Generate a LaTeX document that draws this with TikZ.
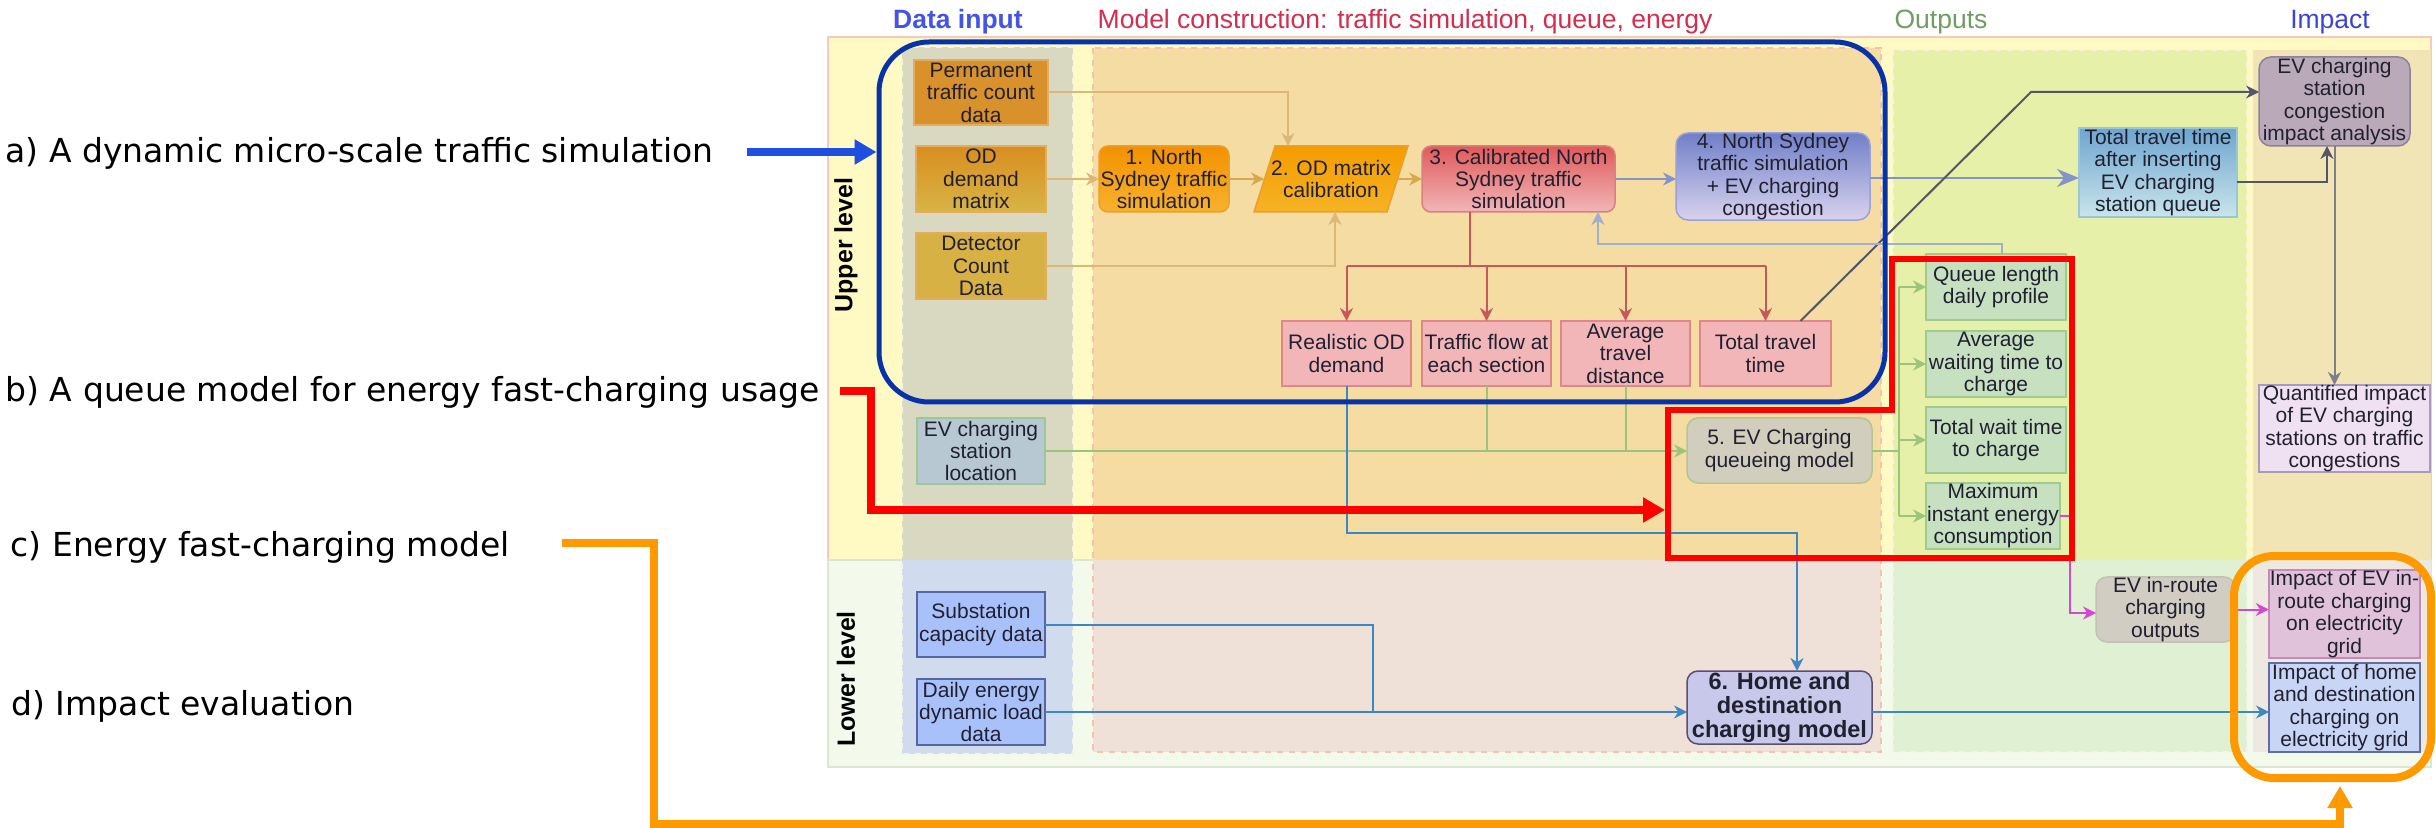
\documentclass[tikz,border=0pt]{standalone}
\usepackage{fontspec}
\setmainfont{Liberation Sans}
\newfontfamily\leftfont{DejaVu Sans}
\usetikzlibrary{arrows.meta}
% backgrounds
\definecolor{upband}{HTML}{FFF9C4}
\definecolor{upbandB}{HTML}{F6C9BF}
\definecolor{lowband}{HTML}{F3FAEB}
\definecolor{lowbandB}{HTML}{DDE6D6}
\definecolor{diU}{HTML}{D9D8C0}
\definecolor{diL}{HTML}{D0DCEE}
\definecolor{mcU}{HTML}{F5DCA2}
\definecolor{mcL}{HTML}{EFE0D8}
\definecolor{mcB}{HTML}{F2C3AE}
\definecolor{ocU}{HTML}{E6F0A8}
\definecolor{ocL}{HTML}{DFF0D3}
\definecolor{icU}{HTML}{F1E5B5}
\definecolor{icL}{HTML}{EDE9E0}
\definecolor{colB}{HTML}{F4F4E4}
% boxes
\definecolor{txt}{HTML}{202030}
\definecolor{permF}{HTML}{D9912B}
\definecolor{permB}{HTML}{E3AD5C}
\definecolor{odmT}{HTML}{D98E20}
\definecolor{odmM}{HTML}{D8A236}
\definecolor{odmBo}{HTML}{D8B446}
\definecolor{detF}{HTML}{D8B145}
\definecolor{evlF}{HTML}{B7C8D3}
\definecolor{evlB}{HTML}{9CC79A}
\definecolor{subF}{HTML}{A9C1FA}
\definecolor{subB}{HTML}{5566A0}
\definecolor{bOneT}{HTML}{F39100}
\definecolor{bOneB}{HTML}{F7B22E}
\definecolor{bOneBd}{HTML}{E8A030}
\definecolor{bTwoT}{HTML}{F59C00}
\definecolor{bTwoB}{HTML}{F6B325}
\definecolor{bThrT}{HTML}{E05A5A}
\definecolor{bThrB}{HTML}{F1B6B8}
\definecolor{bThrBd}{HTML}{D88080}
\definecolor{pinkF}{HTML}{F2B6B8}
\definecolor{pinkB}{HTML}{E08888}
\definecolor{bFouT}{HTML}{7080C8}
\definecolor{bFouB}{HTML}{D9D2EE}
\definecolor{bFouBd}{HTML}{9AA0D8}
\definecolor{bFivF}{HTML}{D2CEBE}
\definecolor{bFivB}{HTML}{B5C592}
\definecolor{bSixF}{HTML}{C7C8EA}
\definecolor{bSixB}{HTML}{5C4F6E}
\definecolor{ttaT}{HTML}{6FA5CF}
\definecolor{ttaB}{HTML}{C9E5EC}
\definecolor{ttaBd}{HTML}{9BC6D6}
\definecolor{grnF}{HTML}{C6E0C0}
\definecolor{grnB}{HTML}{9FCB8E}
\definecolor{evrF}{HTML}{D1CDC2}
\definecolor{evrB}{HTML}{C2C2B2}
\definecolor{congF}{HTML}{B9A9B9}
\definecolor{congB}{HTML}{8E8298}
\definecolor{quaF}{HTML}{EFE1F1}
\definecolor{quaB}{HTML}{A99AB8}
\definecolor{impOF}{HTML}{E0C2DA}
\definecolor{impOB}{HTML}{C888B8}
\definecolor{impTF}{HTML}{C9D5F4}
\definecolor{impTB}{HTML}{5E6EA4}
% connectors
\definecolor{cTan}{HTML}{D9B878}
\definecolor{cOra}{HTML}{D8A850}
\definecolor{cBlG}{HTML}{8494C8}
\definecolor{cRed}{HTML}{C85858}
\definecolor{cFb}{HTML}{9EAFD0}
\definecolor{cDark}{HTML}{555566}
\definecolor{cGrey}{HTML}{7F7F88}
\definecolor{cGreen}{HTML}{9CC47C}
\definecolor{cBlue}{HTML}{3C88C4}
\definecolor{cMag}{HTML}{D448D4}
% headers and overlays
\definecolor{hBlue}{HTML}{4453E8}
\definecolor{hRed}{HTML}{D42E4E}
\definecolor{hGreen}{HTML}{6E9E62}
\definecolor{hImp}{HTML}{3B44D8}
\definecolor{ovBlue}{HTML}{0833A8}
\definecolor{arBlue}{HTML}{1F4FE0}
\definecolor{ovRed}{HTML}{FF0000}
\definecolor{ovOrange}{HTML}{FF9900}

\newcommand\boxfont{\fontsize{5.97pt}{6.4pt}\selectfont}
\newcommand\sixfont{\fontsize{6.69pt}{6.9pt}\selectfont\bfseries}
\newcommand\hdrfont{\fontsize{7.54pt}{8pt}\selectfont}
\newcommand\lvlfont{\fontsize{7.1pt}{8pt}\selectfont\bfseries}
\newcommand\annfont{\leftfont\fontsize{9.39pt}{11pt}\selectfont}

\newcommand\mkbox[7][]{%
  \pgfmathsetmacro\mkcx{(#3+#5)/2}%
  \pgfmathsetmacro\mkcy{(#4+#6)/2}%
  \pgfmathsetmacro\mkw{(#5-#3)*0.1}%
  \pgfmathsetmacro\mkh{(#6-#4)*0.1}%
  \node[#1, minimum width=\mkw mm, minimum height=\mkh mm] (#2) at (\mkcx,\mkcy) {#7};%
}

\begin{document}
\begin{tikzpicture}[x=0.1mm,y=-0.1mm,
  bx/.style={draw, line width=0.15mm, inner xsep=0.1mm, inner ysep=0mm, outer sep=0pt,
             align=center, font=\boxfont, text=txt},
  rbx/.style={bx, rounded corners=0.9mm},
  plain/.style={line width=0.2mm},
  conn/.style={line width=0.2mm, -{Stealth[length=1.3mm,width=1.3mm]}},
  bigconn/.style={line width=0.25mm, -{Stealth[length=2.2mm,width=1.8mm]}},
  hdr/.style={font=\hdrfont, inner sep=0pt},
  ann/.style={font=\annfont, inner sep=0pt, text=black},
  bigarrow/.style={line width=0.8mm, -{Triangle[length=2.2mm,width=2.4mm]}},
  colbox/.style={draw=colB, line width=0.2mm, dash pattern=on 0.6mm off 0.6mm}
]
\useasboundingbox (0,0) rectangle (2436,828);
\fill[white] (0,0) rectangle (2436,828);

% ---------- bands ----------
\draw[fill=upband, draw=upbandB, line width=0.2mm] (828,37) rectangle (2431,560);
\draw[fill=lowband, draw=lowbandB, line width=0.2mm] (828,560) rectangle (2431,767);

% ---------- columns ----------
\fill[diU] (902,47) rectangle (1073,560);
\fill[diL] (902,560) rectangle (1073,754);
\draw[colbox] (902,47) rectangle (1073,754);
\fill[mcU] (1093,48) rectangle (1881,560);
\fill[mcL] (1093,560) rectangle (1881,752);
\draw[colbox, draw=mcB] (1093,48) rectangle (1881,752);
\fill[ocU] (1893,50) rectangle (2247,560);
\fill[ocL] (1893,560) rectangle (2247,752);
\draw[colbox] (1893,50) rectangle (2247,752);
\fill[icU] (2253,50) rectangle (2431,560);
\fill[icL] (2253,560) rectangle (2431,752);

% ---------- headers ----------
\node[hdr, text=hBlue, anchor=base, font=\hdrfont\bfseries] (hdi) at (958,29) {Data input};
\node[hdr, text=hRed, anchor=base west] (hmc) at (1097,29) {Model construction: traffic simulation, queue, energy};
\node[hdr, text=hGreen, anchor=base] (hout) at (1941,29) {Outputs};
\node[hdr, text=hImp, anchor=base] (himp) at (2330,29) {Impact};
\node[font=\lvlfont, rotate=90, inner sep=0pt] (lup) at (846,245) {Upper level};
\node[font=\lvlfont, rotate=90, inner sep=0pt] (llo) at (846,679) {Lower level};

% ---------- data input boxes ----------
\mkbox[bx, fill=permF, draw=permB]{perm}{914}{60}{1048}{125}{Permanent\\traffic count\\data}
\mkbox[bx, top color=odmT, middle color=odmM, bottom color=odmBo, draw=permB]{odm}{916}{146}{1046}{212}{OD\\demand\\matrix}
\mkbox[bx, fill=detF, draw=permB]{det}{916}{233}{1046}{299}{Detector\\Count\\Data}
\mkbox[bx, fill=evlF, draw=evlB]{evloc}{917}{418}{1045}{484}{EV charging\\station\\location}
\mkbox[bx, fill=subF, draw=subB]{subst}{917}{592}{1045}{657}{Substation\\capacity data}
\mkbox[bx, fill=subF, draw=subB]{daily}{917}{679}{1045}{745}{Daily energy\\dynamic load\\data}

% ---------- model boxes ----------
\mkbox[rbx, top color=bOneT, bottom color=bOneB, draw=bOneBd]{b1}{1099}{146}{1229}{212}{1. North\\Sydney traffic\\simulation}
\draw[top color=bTwoT, bottom color=bTwoB, draw=bOneBd, line width=0.15mm]
  (1275,146) -- (1408,146) -- (1387,212) -- (1254,212) -- cycle;
\node[font=\boxfont, align=center, text=txt, inner sep=0pt] (b2) at (1331,179) {2. OD matrix\\calibration};
\coordinate (b2w) at (1264,179);
\coordinate (b2e) at (1398,179);
\coordinate (b2n) at (1288,146);
\coordinate (b2s) at (1335,212);
\mkbox[rbx, top color=bThrT, bottom color=bThrB, draw=bThrBd]{b3}{1422}{146}{1615}{212}{3. Calibrated North\\Sydney traffic\\simulation}
\mkbox[rbx, rounded corners=1.2mm, top color=bFouT, bottom color=bFouB, draw=bFouBd]{b4}{1676}{133}{1870}{220}{4. North Sydney\\traffic simulation\\+ EV charging\\congestion}
\mkbox[bx, fill=pinkF, draw=pinkB]{rod}{1282}{321}{1411}{386}{Realistic OD\\demand}
\mkbox[bx, fill=pinkF, draw=pinkB]{tfl}{1422}{321}{1551}{386}{Traffic flow at\\each section}
\mkbox[bx, fill=pinkF, draw=pinkB]{atd}{1561}{321}{1690}{386}{Average\\travel\\distance}
\mkbox[bx, fill=pinkF, draw=pinkB]{ttt}{1700}{321}{1831}{386}{Total travel\\time}
\mkbox[rbx, rounded corners=1.1mm, fill=bFivF, draw=bFivB]{b5}{1687}{418}{1872}{483}{5. EV Charging\\queueing model}
\mkbox[rbx, rounded corners=1.1mm, fill=bSixF, draw=bSixB, font=\sixfont]{b6}{1687}{671}{1872}{744}{6. Home and\\destination\\charging model}

% ---------- output boxes ----------
\mkbox[bx, top color=ttaT, bottom color=ttaB, draw=ttaBd]{tta}{2079}{128}{2237}{217}{Total travel time\\after inserting\\EV charging\\station queue}
\mkbox[bx, fill=grnF, draw=grnB]{ql}{1926}{254}{2066}{320}{Queue length\\daily profile}
\mkbox[bx, fill=grnF, draw=grnB]{awt}{1926}{331}{2066}{397}{Average\\waiting time to\\charge}
\mkbox[bx, fill=grnF, draw=grnB]{twt}{1926}{407}{2066}{473}{Total wait time\\to charge}
\mkbox[bx, fill=grnF, draw=grnB]{mie}{1926}{483}{2060}{549}{Maximum\\instant energy\\consumption}
\mkbox[rbx, rounded corners=1.1mm, fill=evrF, draw=evrB]{evr}{2096}{577}{2235}{642}{EV in-route\\charging\\outputs}

% ---------- impact boxes ----------
\mkbox[rbx, rounded corners=1.2mm, fill=congF, draw=congB]{cong}{2259}{57}{2410}{146}{EV charging\\station\\congestion\\impact analysis}
\mkbox[bx, fill=quaF, draw=quaB]{quant}{2259}{385}{2430}{472}{Quantified impact\\of EV charging\\stations on traffic\\congestions}
\mkbox[bx, fill=impOF, draw=impOB]{imp1}{2269}{570}{2420}{658}{Impact of EV in-\\route charging\\on electricity\\grid}
\mkbox[bx, fill=impTF, draw=impTB]{imp2}{2269}{663}{2420}{752}{Impact of home\\and destination\\charging on\\electricity grid}

% ---------- connectors ----------
\draw[conn, cTan] (perm.east) -| (b2n);
\draw[conn, cTan] (odm.east) -- (b1.west);
\draw[conn, cOra] (b1.east) -- (b2w);
\draw[conn, cOra] (b2e) -- (b3.west);
\draw[conn, cTan] (det.east) -| (b2s);
\draw[conn, cBlG] (b3.east) -- (b3.east -| b4.west);

\coordinate (rj) at (1470,266);
\draw[plain, cRed] (b3.south -| rj) -- (rj);
\draw[plain, cRed] (rod.north |- rj) -- (ttt.north |- rj);
\draw[conn, cRed] (rod.north |- rj) -- (rod.north);
\draw[conn, cRed] (tfl.north |- rj) -- (tfl.north);
\draw[conn, cRed] (atd.north |- rj) -- (atd.north);
\draw[conn, cRed] (ttt.north |- rj) -- (ttt.north);

\draw[bigconn, cBlG] ([yshift=-0.15mm]b4.east) -- ([yshift=-0.15mm]b4.east -| tta.west);

\coordinate (dk) at (2031,92);
\draw[conn, cDark] ([xshift=3.5mm]ttt.north) -- (dk) -- (dk -| cong.west);
\coordinate (tc) at (2327,182);
\draw[conn, cDark] (tc -| tta.east) -| ([xshift=-0.75mm]cong.south);
\draw[conn, cGrey] (cong.south) -- (cong.south |- quant.north);

\coordinate (fbA) at (1598,244);
\draw[conn, cFb] ([xshift=0.6mm]ql.north) |- (fbA) -- (fbA |- b3.south);

\draw[conn, cGreen] (evloc.east) -- (evloc.east -| b5.west);
\draw[plain, cGreen] (tfl.south) -- (tfl.south |- evloc.east);
\draw[plain, cGreen] (atd.south) -- (atd.south |- evloc.east);
\coordinate (gv) at (1899,451);
\draw[plain, cGreen] (b5.east) -- (b5.east -| gv);
\draw[plain, cGreen] (gv |- ql.west) -- (gv |- mie.west);
\draw[conn, cGreen] (gv |- ql.west) -- (ql.west);
\draw[conn, cGreen] (gv |- awt.west) -- (awt.west);
\draw[conn, cGreen] (gv |- twt.west) -- (twt.west);
\draw[conn, cGreen] (gv |- mie.west) -- (mie.west);

\coordinate (bl) at (1797,533);
\draw[conn, cBlue] (rod.south) |- (bl) -- (bl |- b6.north);
\coordinate (sj) at (1373,712);
\draw[plain, cBlue] (subst.east) -| (sj);
\draw[conn, cBlue] (daily.east) -- (daily.east -| b6.west);
\draw[conn, cBlue] (b6.east |- daily.east) -- (daily.east -| imp2.west);

\coordinate (mg) at (2070,613);
\draw[conn, cMag] (mie.east) -| (mg) -- (mg -| evr.west);
\draw[conn, cMag] (evr.east) -- (evr.east -| imp1.west);

% ---------- overlays ----------
\node[draw=ovBlue, line width=0.5mm, rounded corners=5mm, minimum width=100.6mm,
      minimum height=36mm, inner sep=0pt] (ovA) at (1382,222) {};
\draw[draw=ovRed, line width=0.65mm, line join=miter]
  (1668,410) -- (1892,410) -- (1892,259) -- (2072,259) -- (2072,558) -- (1668,558) -- cycle;
\coordinate (ovB) at (1665,510);
\node[draw=ovOrange, line width=0.8mm, rounded corners=4mm, minimum width=19.7mm,
      minimum height=22.2mm, inner sep=0pt] (ovD) at (2332.5,667) {};

% ---------- annotations ----------
\node[ann, anchor=base west] (ta) at (5,163) {a) A dynamic micro-scale traffic simulation};
\node[ann, anchor=base west] (tb) at (5,401) {b) A queue model for energy fast-charging usage};
\node[ann, anchor=base west] (tcx) at (10,556) {c) Energy fast-charging model};
\node[ann, anchor=base west] (td) at (11,715) {d) Impact evaluation};

\coordinate (aS) at (747,152);
\draw[bigarrow, arBlue] (aS) -- (aS -| ovA.west);
\coordinate (bS) at (840,391);
\draw[bigarrow, ovRed, line join=miter] (bS) -- (871,391) -- (871,510) -- (ovB);
\coordinate (cS) at (562,543);
\draw[bigarrow, ovOrange, line join=miter] (cS) -- (654,543) -- (654,824) -| ([xshift=0.75mm,yshift=-0.4mm]ovD.south);
\end{tikzpicture}
\end{document}
